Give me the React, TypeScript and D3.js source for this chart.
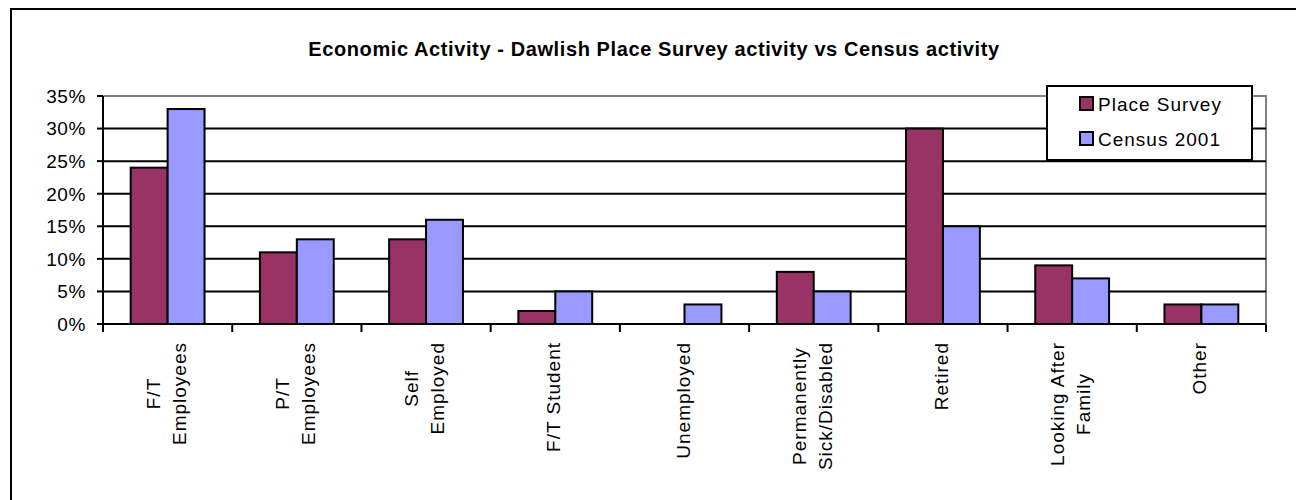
import React, { useEffect, useRef } from "react";
import * as d3 from "d3";

const title = "Economic Activity - Dawlish Place Survey activity vs Census activity";
const categories = [
  "F/T Employees",
  "P/T Employees",
  "Self Employed",
  "F/T Student",
  "Unemployed",
  "Permanently Sick/Disabled",
  "Retired",
  "Looking After Family",
  "Other",
];
const categoryLines = [
  ["F/T", "Employees"],
  ["P/T", "Employees"],
  ["Self", "Employed"],
  ["F/T Student"],
  ["Unemployed"],
  ["Permanently", "Sick/Disabled"],
  ["Retired"],
  ["Looking After", "Family"],
  ["Other"],
];
const seriesNames = ["Place Survey", "Census 2001"];
const placeSurvey = [24, 11, 13, 2, 0, 8, 30, 9, 3];
const census2001 = [33, 13, 16, 5, 3, 5, 15, 7, 3];
const yTicks = [0, 5, 10, 15, 20, 25, 30, 35];
const seriesColors = ["#993366", "#9999FF"];

const W = 1296;
const H = 500;
const FONT = "'Liberation Sans', Arial, sans-serif";

export default function App() {
  const ref = useRef<SVGSVGElement | null>(null);

  useEffect(() => {
    const svg = d3.select(ref.current);
    svg.selectAll("*").remove();

    const left = 103, right = 1266, top = 96, bottom = 324;
    const fs = 19;
    const ls = 1.0;

    const y = d3.scaleLinear().domain([0, 35]).range([bottom, top]);
    const x = d3.scaleBand<string>().domain(categories).range([left, right]).padding(0);
    const xs = d3
      .scaleBand<string>()
      .domain(seriesNames)
      .range([0, x.bandwidth()])
      .paddingInner(0)
      .paddingOuter(0.75);

    svg.append("rect").attr("x", 0).attr("y", 0).attr("width", W).attr("height", H).attr("fill", "#fff");
    // outer chart frame (only left & top edges fall inside the picture)
    svg
      .append("path")
      .attr("d", `M11,${H}V9H${W}`)
      .attr("fill", "none")
      .attr("stroke", "#000")
      .attr("stroke-width", 2);

    // title
    svg
      .append("text")
      .attr("x", 654)
      .attr("y", 56)
      .attr("text-anchor", "middle")
      .attr("font-family", FONT)
      .attr("font-weight", "bold")
      .attr("font-size", 20)
      .attr("letter-spacing", 0.6)
      .attr("fill", "#000")
      .text(title);

    // plot border (gray top & right)
    svg
      .append("path")
      .attr("d", `M${left},${y(35)}H${right}V${bottom}`)
      .attr("fill", "none")
      .attr("stroke", "#808080")
      .attr("stroke-width", 2);

    // gridlines
    svg
      .append("g")
      .selectAll("line")
      .data(yTicks.filter((t) => t > 0 && t < 35))
      .join("line")
      .attr("x1", left)
      .attr("x2", right)
      .attr("y1", (d) => y(d))
      .attr("y2", (d) => y(d))
      .attr("stroke", "#000")
      .attr("stroke-width", 2);

    // bars
    const series = [placeSurvey, census2001];
    series.forEach((vals, si) => {
      svg
        .append("g")
        .selectAll("rect")
        .data(vals)
        .join("rect")
        .attr("x", (_, i) => (x(categories[i]) as number) + (xs(seriesNames[si]) as number))
        .attr("y", (d) => y(d))
        .attr("width", xs.bandwidth())
        .attr("height", (d) => bottom - y(d))
        .attr("fill", seriesColors[si])
        .attr("stroke", "#000")
        .attr("stroke-width", 2);
    });

    // y axis
    svg
      .append("line")
      .attr("x1", left)
      .attr("x2", left)
      .attr("y1", top)
      .attr("y2", bottom + 1)
      .attr("stroke", "#000")
      .attr("stroke-width", 2);
    const yg = svg.append("g");
    yg.selectAll("line")
      .data(yTicks)
      .join("line")
      .attr("x1", left - 6)
      .attr("x2", left)
      .attr("y1", (d) => y(d))
      .attr("y2", (d) => y(d))
      .attr("stroke", "#000")
      .attr("stroke-width", 2);
    yg.selectAll("text")
      .data(yTicks)
      .join("text")
      .attr("x", left - 17)
      .attr("y", (d) => y(d))
      .attr("dy", "0.36em")
      .attr("text-anchor", "end")
      .attr("font-family", FONT)
      .attr("font-size", fs)
      .attr("letter-spacing", 0.6)
      .attr("fill", "#000")
      .text((d) => `${d}%`);

    // x axis
    svg
      .append("line")
      .attr("x1", left)
      .attr("x2", right)
      .attr("y1", bottom)
      .attr("y2", bottom)
      .attr("stroke", "#000")
      .attr("stroke-width", 2);
    const bounds = categories.map((c) => x(c) as number).concat([right]);
    svg
      .append("g")
      .selectAll("line")
      .data(bounds)
      .join("line")
      .attr("x1", (d) => d)
      .attr("x2", (d) => d)
      .attr("y1", bottom)
      .attr("y2", bottom + 8)
      .attr("stroke", "#000")
      .attr("stroke-width", 2);

    // x labels
    const lh = 26;
    const labelTop = 342;
    categoryLines.forEach((lines, ci) => {
      const cx = (x(categories[ci]) as number) + x.bandwidth() / 2;
      const g = svg.append("g");
      const texts = lines.map((ln) =>
        g
          .append("text")
          .attr("font-family", FONT)
          .attr("font-size", fs)
          .attr("letter-spacing", ls)
          .attr("text-anchor", "middle")
          .attr("fill", "#000")
          .text(ln)
      );
      const maxLen = d3.max(texts, (t) => (t.node() as SVGTextElement).getComputedTextLength()) || 0;
      const n = lines.length;
      texts.forEach((t, i) => {
        const bx = cx + (i - (n - 1) / 2) * lh + 5;
        const by = labelTop + maxLen / 2;
        t.attr("transform", `translate(${bx},${by}) rotate(-90)`);
      });
    });

    // legend
    const lg = svg.append("g");
    lg.append("rect")
      .attr("x", 1047)
      .attr("y", 86)
      .attr("width", 205)
      .attr("height", 74)
      .attr("fill", "#fff")
      .attr("stroke", "#000")
      .attr("stroke-width", 2);
    seriesNames.forEach((name, i) => {
      const ry = 104 + i * 35;
      lg.append("rect")
        .attr("x", 1080)
        .attr("y", ry - 7)
        .attr("width", 13)
        .attr("height", 13)
        .attr("fill", seriesColors[i])
        .attr("stroke", "#000")
        .attr("stroke-width", 2);
      lg.append("text")
        .attr("x", 1098)
        .attr("y", ry)
        .attr("dy", "0.36em")
        .attr("font-family", FONT)
        .attr("font-size", fs)
        .attr("letter-spacing", ls)
        .attr("fill", "#000")
        .text(name);
    });
  }, []);

  return (
    <svg
      ref={ref}
      width={W}
      height={H}
      style={{ position: "absolute", left: 0, top: 0, display: "block" }}
    />
  );
}
